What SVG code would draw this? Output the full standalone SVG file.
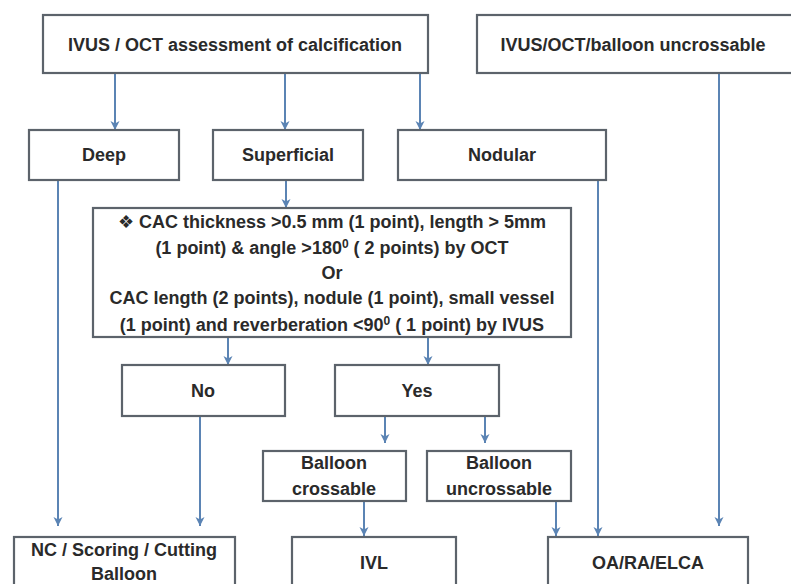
<svg xmlns="http://www.w3.org/2000/svg" width="791" height="584" viewBox="0 0 791 584">
<defs>
<marker id="ah" markerWidth="10" markerHeight="10" refX="9" refY="5" orient="auto" markerUnits="userSpaceOnUse">
<path d="M0,0.5 L9,5 L0,9.5 L2.5,5 Z" fill="#5b84b4"/>
</marker>
<style>
.box{fill:#ffffff;stroke:#5c636b;stroke-width:2.2}
.t{font-family:"Liberation Sans",Arial,"DejaVu Sans",sans-serif;font-weight:bold;font-size:18px;fill:#2a2a2a;text-anchor:middle}
.c{stroke:#5b84b4;stroke-width:2;fill:none;marker-end:url(#ah)}
</style>
</defs>
<rect width="791" height="584" fill="#ffffff"/>
<g id="connectors">
<line class="c" x1="115" y1="73" x2="115" y2="130"/>
<line class="c" x1="285" y1="73" x2="285" y2="130"/>
<line class="c" x1="420" y1="73" x2="420" y2="130"/>
<line class="c" x1="286" y1="180" x2="286" y2="208"/>
<line class="c" x1="228" y1="337" x2="228" y2="365"/>
<line class="c" x1="428" y1="337" x2="428" y2="365"/>
<line class="c" x1="385" y1="416" x2="385" y2="443"/>
<line class="c" x1="485" y1="416" x2="485" y2="443"/>
<line class="c" x1="58" y1="180" x2="58" y2="526"/>
<line class="c" x1="200" y1="416" x2="200" y2="526"/>
<line class="c" x1="364" y1="501" x2="364" y2="536"/>
<line class="c" x1="556" y1="501" x2="556" y2="536"/>
<line class="c" x1="598" y1="180" x2="598" y2="536"/>
<line class="c" x1="719" y1="73" x2="719" y2="526"/>
</g>
<g id="assess">
<rect class="box" x="43" y="15" width="385" height="58"/>
<text class="t" x="235" y="51">IVUS / OCT assessment of calcification</text>
</g>
<g id="uncrossable">
<rect class="box" x="477" y="15" width="320" height="58"/>
<text class="t" x="633" y="51">IVUS/OCT/balloon uncrossable</text>
</g>
<g id="deep">
<rect class="box" x="29" y="130" width="150" height="50"/>
<text class="t" x="104" y="161">Deep</text>
</g>
<g id="superficial">
<rect class="box" x="213" y="130" width="150" height="50"/>
<text class="t" x="288" y="161">Superficial</text>
</g>
<g id="nodular">
<rect class="box" x="398" y="130" width="208" height="50"/>
<text class="t" x="502" y="161">Nodular</text>
</g>
<g id="criteria">
<rect class="box" x="93" y="208" width="478" height="129"/>
<text class="t" x="332" y="228">❖ CAC thickness &gt;0.5 mm (1 point), length &gt; 5mm</text>
<text class="t" x="332" y="254">(1 point) &amp; angle &gt;180<tspan font-size="12" dy="-6">0</tspan><tspan dy="6"> ( 2 points) by OCT</tspan></text>
<text class="t" x="332" y="279">Or</text>
<text class="t" x="332" y="304">CAC length (2 points), nodule (1 point), small vessel</text>
<text class="t" x="332" y="331">(1 point) and reverberation &lt;90<tspan font-size="12" dy="-6">0</tspan><tspan dy="6"> ( 1 point) by IVUS</tspan></text>
</g>
<g id="no">
<rect class="box" x="122" y="365" width="163" height="51"/>
<text class="t" x="203" y="397">No</text>
</g>
<g id="yes">
<rect class="box" x="335" y="365" width="164" height="51"/>
<text class="t" x="417" y="397">Yes</text>
</g>
<g id="balloon-crossable">
<rect class="box" x="263" y="451" width="143" height="50"/>
<text class="t" x="334" y="469">Balloon</text>
<text class="t" x="334" y="495">crossable</text>
</g>
<g id="balloon-uncrossable">
<rect class="box" x="427" y="451" width="144" height="50"/>
<text class="t" x="499" y="469">Balloon</text>
<text class="t" x="499" y="495">uncrossable</text>
</g>
<g id="nc">
<rect class="box" x="14" y="537" width="221" height="60"/>
<text class="t" x="124" y="556">NC / Scoring / Cutting</text>
<text class="t" x="124" y="580">Balloon</text>
</g>
<g id="ivl">
<rect class="box" x="292" y="537" width="164" height="60"/>
<text class="t" x="374" y="569">IVL</text>
</g>
<g id="oa">
<rect class="box" x="548" y="537" width="200" height="60"/>
<text class="t" x="648" y="569">OA/RA/ELCA</text>
</g>
</svg>
